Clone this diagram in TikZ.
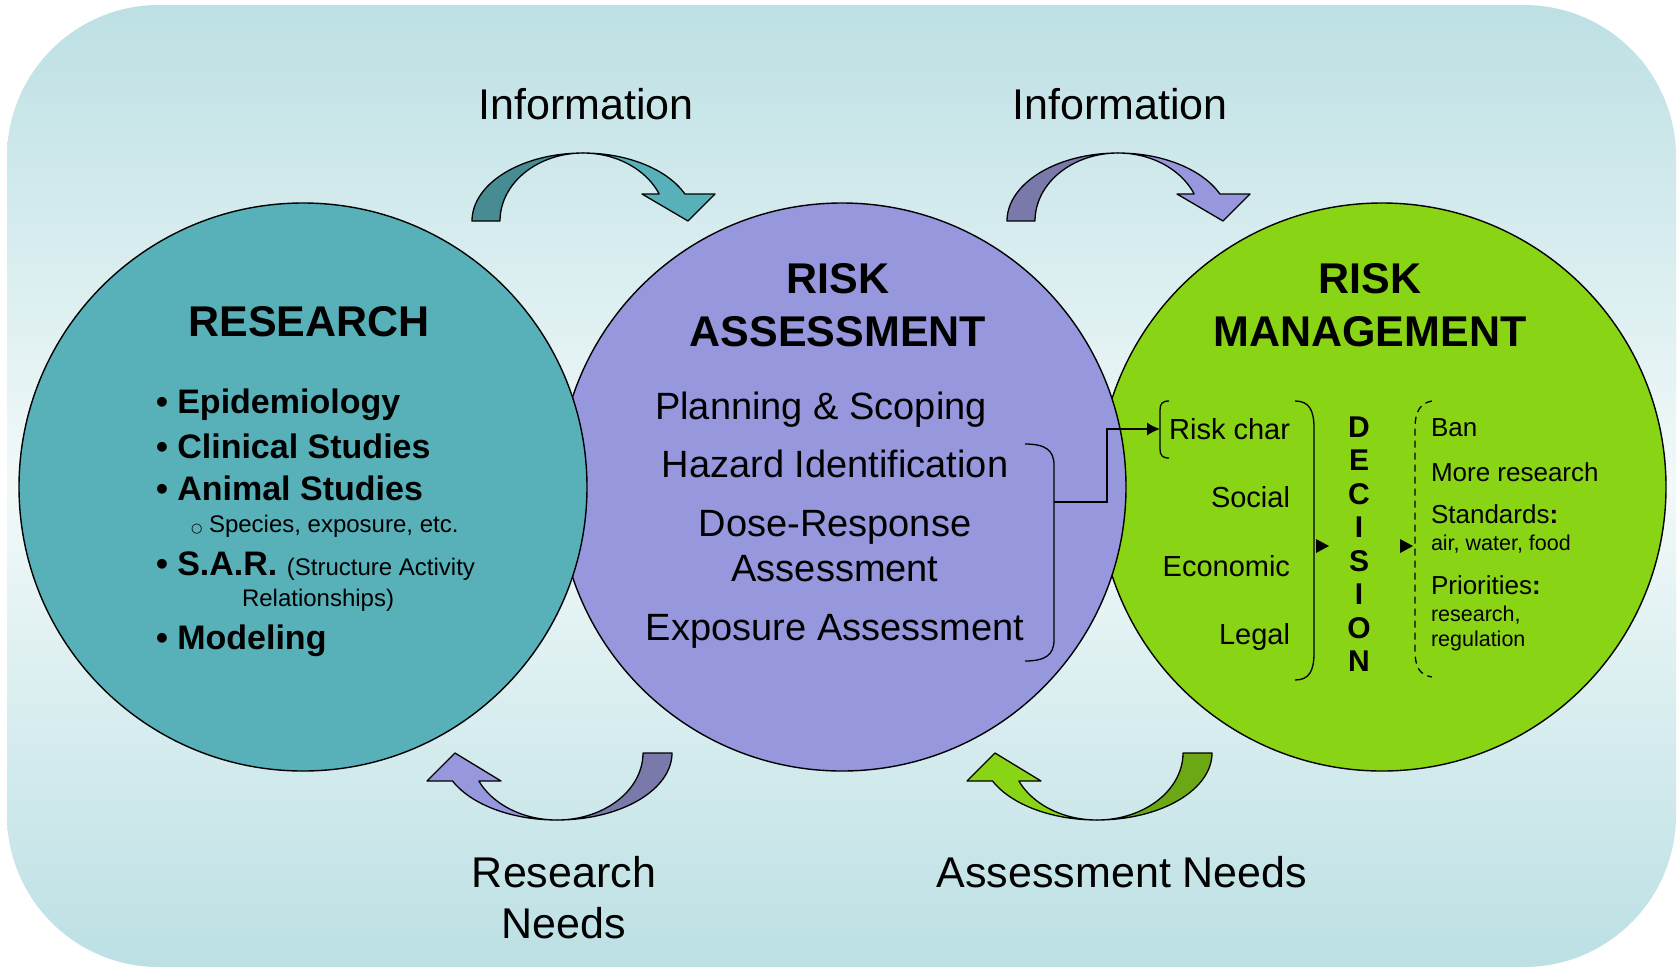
\documentclass[tikz,border=0pt]{standalone}
\usepackage{fontspec}
\setmainfont{Liberation Sans}
\newfontfamily\symfont{DejaVu Sans}
\usetikzlibrary{arrows.meta}
\definecolor{bgtop}{RGB}{189,224,228}
\definecolor{bgmid}{RGB}{242,249,249}
\definecolor{bgbot}{RGB}{188,224,228}
\definecolor{teal}{RGB}{88,177,185}
\definecolor{tealdark}{RGB}{70,140,146}
\definecolor{purp}{RGB}{151,151,221}
\definecolor{purpdark}{RGB}{121,121,170}
\definecolor{grn}{RGB}{138,212,22}
\definecolor{grndark}{RGB}{108,168,22}
\newcommand\fs[1]{\fontsize{#1}{#1}\selectfont}
\newcommand\toparrow[3]{%
\begin{scope}[shift={(#1,0)}]
\filldraw[blk, fill=#2] plot[domain=180:270, samples=40] ({583+111*cos(\x)},{221+68*sin(\x)}) -- plot[domain=270:180, samples=40] ({583+83*cos(\x)},{221+68*sin(\x)}) -- cycle;
\filldraw[blk, fill=#3] plot[domain=-90:-23.4, samples=30] ({583+111*cos(\x)},{221+68*sin(\x)}) -- (715,194) -- (688,221) -- (642,194) -- plot[domain=-23.4:-90, samples=30] ({583+83*cos(\x)},{221+68*sin(\x)}) -- cycle;
\end{scope}}
\newcommand\botarrow[3]{%
\begin{scope}[shift={(#1,0)}]
\filldraw[blk, fill=#2] plot[domain=0:90, samples=40] ({557+115*cos(\x)},{753+67*sin(\x)}) -- plot[domain=90:0, samples=40] ({557+86*cos(\x)},{753+67*sin(\x)}) -- cycle;
\filldraw[blk, fill=#3] plot[domain=90:155.3, samples=30] ({557+115*cos(\x)},{753+67*sin(\x)}) -- (427,781) -- (455,753) -- (501,781) -- plot[domain=155.3:90, samples=30] ({557+86*cos(\x)},{753+67*sin(\x)}) -- cycle;
\end{scope}}
\begin{document}
\begin{tikzpicture}[x=1pt,y=-1pt,
  txt/.style={inner sep=0pt, outer sep=0pt},
  circ/.style={draw=black, line width=1.4pt},
  blk/.style={draw=black, line width=1.3pt, line join=round},
  brk/.style={draw=black, line width=1.3pt},
  head/.style={txt, anchor=base, font=\bfseries\fs{43}},
  lbl/.style={txt, anchor=base, font=\fs{43}},
  bul/.style={txt, anchor=base west, font=\bfseries\fs{34}},
  ra/.style={txt, anchor=base, font=\fs{38}},
  rm/.style={txt, anchor=base east, font=\fs{29}},
  opt/.style={txt, anchor=base west, font=\fs{26}},
  sm/.style={txt, anchor=base west, font=\fs{21.5}},
]
\useasboundingbox (0,0) rectangle (1678,967);
\fill[white] (0,0) rectangle (1678,967);
\shade[top color=bgtop, bottom color=bgbot, middle color=bgmid, rounded corners=152pt] (7,5) rectangle (1676,967);

% curved arrows
\toparrow{0}{tealdark}{teal}
\toparrow{535}{purpdark}{purp}
\botarrow{0}{purpdark}{purp}
\botarrow{540}{grndark}{grn}

% circles
\node[circ, circle, fill=grn, minimum size=568pt, inner sep=0pt] (rm) at (1382,487) {};
\node[circ, circle, fill=purp, minimum size=568pt, inner sep=0pt] (ra) at (842,487) {};
\node[circ, circle, fill=teal, minimum size=568pt, inner sep=0pt] (res) at (303,487) {};

% labels outside
\node[lbl] (info1) at (586,119) {Information};
\node[lbl] (info2) at (1120,119) {Information};
\node[lbl] (rneeds1) at (564,887) {Research};
\node[lbl] (rneeds2) at (564,938) {Needs};
\node[lbl] (aneeds) at (1122,887) {Assessment Needs};

% research
\node[head] (reshead) at (309,336) {RESEARCH};
\node[bul] (b1) at (156,413) {• Epidemiology};
\node[bul] (b2) at (156,458) {• Clinical Studies};
\node[bul] (b3) at (156,500) {• Animal Studies};
\node[txt, anchor=base west, font=\fs{24}] (b3a) at (191,532) {{\symfont\fs{13}○} Species, exposure, etc.};
\node[bul] (b4) at (156,575) {• S.A.R. {\mdseries\fs{24}(Structure Activity}};
\node[txt, anchor=base west, font=\fs{24}] (b4a) at (242,606) {Relationships)};
\node[bul] (b5) at (156,649) {• Modeling};

% risk assessment
\node[head] (rahead1) at (838,293) {RISK};
\node[head] (rahead2) at (838,346) {ASSESSMENT};
\node[ra] (ra1) at (821,419) {Planning \& Scoping};
\node[ra] (ra2) at (835,477) {Hazard Identification};
\node[ra] (ra3) at (835,536) {Dose-Response};
\node[ra] (ra4) at (835,581) {Assessment};
\node[ra] (ra5) at (835,640) {Exposure Assessment};
\draw[brk] (1025,444) .. controls (1045,444) and (1054,450) .. (1054,465) -- (1054,640) .. controls (1054,655) and (1045,661) .. (1025,661);
\coordinate (rabrk) at (1054,502);

% risk management
\node[head] (rmhead1) at (1370,293) {RISK};
\node[head] (rmhead2) at (1370,346) {MANAGEMENT};
\node[rm] (rc) at (1290,439) {Risk char};
\node[rm] (soc) at (1290,507) {Social};
\node[rm] (eco) at (1290,576) {Economic};
\node[rm] (leg) at (1290,644) {Legal};
\draw[brk] (1169,401) .. controls (1162,401) and (1160,404) .. (1160,410) -- (1160,449) .. controls (1160,455) and (1162,458) .. (1169,458);
\coordinate (rcbrk) at (1160,429);
\draw[brk, -{Latex[length=13pt,width=13pt]}] (rabrk) -- ++(53,0) |- (rcbrk);
\draw[brk] (1295,401) .. controls (1309,401) and (1314,410) .. (1314,428) -- (1314,653) .. controls (1314,671) and (1309,680) .. (1295,680);
\fill[black] (1316,539) -- (1329,546) -- (1316,553) -- cycle;
\node[txt, align=center, font=\bfseries\fontsize{30}{33.5}\selectfont] (decision) at (1359,544) {D\\E\\C\\I\\S\\I\\O\\N};
\fill[black] (1400,539) -- (1413,546) -- (1400,553) -- cycle;
\draw[brk, dashed, dash pattern=on 7pt off 5pt] (1432,401) .. controls (1420,403) and (1415,412) .. (1415,428) -- (1415,650) .. controls (1415,668) and (1420,675) .. (1432,677);
\node[opt] (ban) at (1431,436) {Ban};
\node[opt] (more) at (1431,481) {More research};
\node[opt] (std) at (1431,523) {Standards{\bfseries:}};
\node[sm] (stda) at (1431,550) {air, water, food};
\node[opt] (pri) at (1431,594) {Priorities{\bfseries:}};
\node[sm] (pria) at (1431,621) {research,};
\node[sm] (prib) at (1431,646) {regulation};
\end{tikzpicture}
\end{document}
